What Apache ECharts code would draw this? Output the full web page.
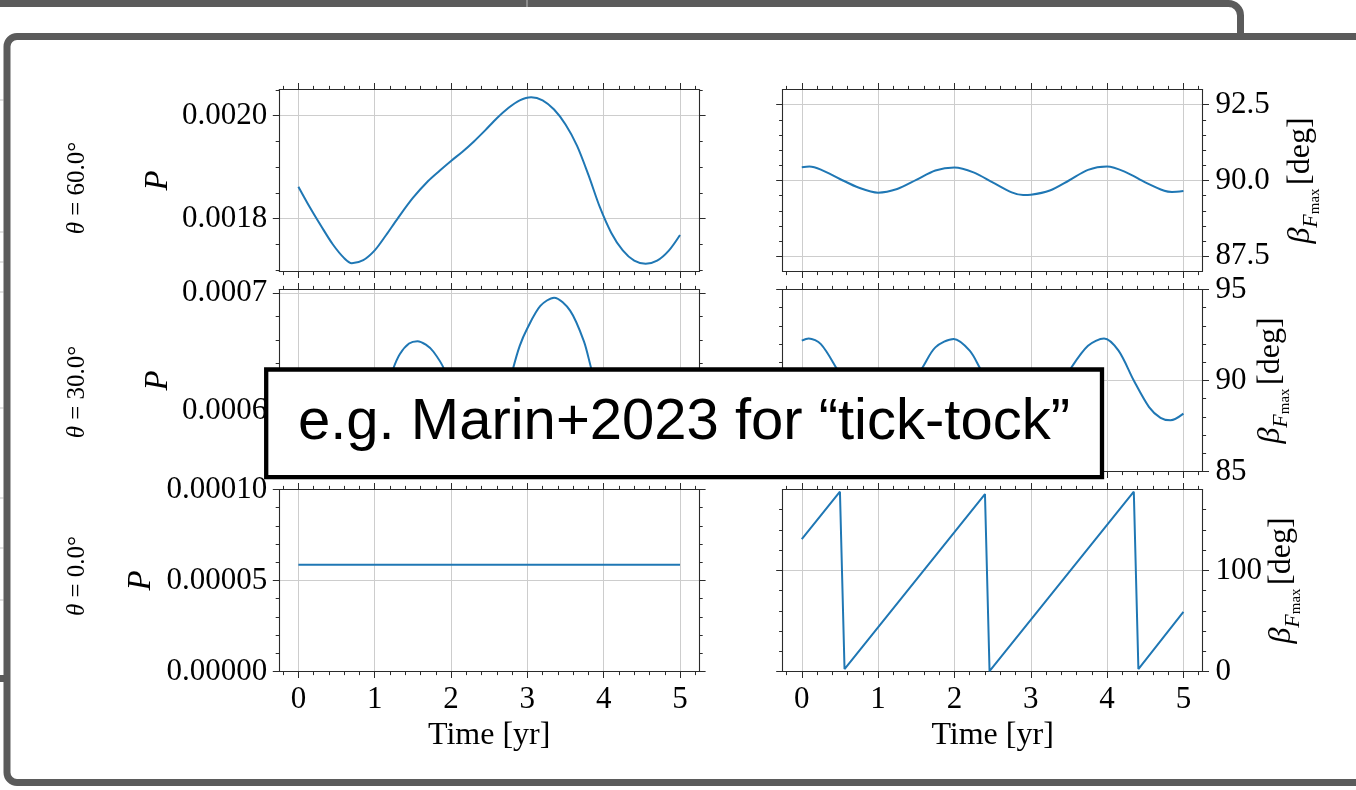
<!DOCTYPE html>
<html>
<head>
<meta charset="utf-8">
<script src="https://cdn.jsdelivr.net/npm/echarts@6.0.0/dist/echarts.min.js"></script>
<style>
  html, body { margin: 0; padding: 0; background: #ffffff; }
  #chart { width: 1356px; height: 790px; }
</style>
</head>
<body>
<div id="chart"></div>
<script>
// ---- time axis ticks (years) ----
const xMajorTicks = [0, 1, 2, 3, 4, 5];
const xMinorTicks = [-0.2, 0.2, 0.4, 0.6, 0.8, 1.2, 1.4, 1.6, 1.8, 2.2, 2.4, 2.6, 2.8,
                     3.2, 3.4, 3.6, 3.8, 4.2, 4.4, 4.6, 4.8, 5.2];
const xTickLabels = ['0', '1', '2', '3', '4', '5'];

// ---- theta = 60 deg ----
const p60Time   = [0, 0.15, 0.3, 0.45, 0.6, 0.7, 0.85, 1.0, 1.15, 1.3, 1.5, 1.7, 1.85, 2.0, 2.15,
                   2.3, 2.45, 2.6, 2.75, 2.9, 3.05, 3.2, 3.35, 3.5, 3.65, 3.8, 3.95, 4.1, 4.25,
                   4.4, 4.55, 4.7, 4.85, 5.0];
const p60Values = [0.001862, 0.001822, 0.001785, 0.001750, 0.001723, 0.001713, 0.001719, 0.001738,
                   0.001768, 0.001800, 0.001840, 0.001873, 0.001893, 0.001912, 0.001930, 0.001950,
                   0.001972, 0.001995, 0.002015, 0.002030, 0.002036, 0.002030, 0.002012, 0.001983,
                   0.001942, 0.001885, 0.001822, 0.001772, 0.001738, 0.001718, 0.001712, 0.001718,
                   0.001737, 0.001768];
const p60Ticks  = [0.0018, 0.0020];
const p60Minor  = [0.0017, 0.00175, 0.00185, 0.0019, 0.00195, 0.00205];
const p60Labels = ['0.0018', '0.0020'];

const beta60Time   = [0, 0.1, 0.25, 0.5, 0.75, 1.0, 1.25, 1.5, 1.75, 2.0, 2.25, 2.5, 2.75, 2.9,
                      3.0, 3.25, 3.5, 3.75, 4.0, 4.25, 4.5, 4.75, 4.85, 5.0];
const beta60Values = [90.44, 90.46, 90.36, 90.05, 89.76, 89.60, 89.72, 90.02, 90.33, 90.43, 90.27,
                      89.94, 89.61, 89.52, 89.53, 89.67, 90.00, 90.35, 90.46, 90.27, 89.94, 89.66,
                      89.62, 89.65];
const beta60Ticks  = [87.5, 90.0, 92.5];
const beta60Minor  = [88, 88.5, 89, 89.5, 90.5, 91, 91.5, 92];
const beta60Labels = ['87.5', '90.0', '92.5'];

// ---- theta = 30 deg ----
const p30Time   = [0, 0.25, 0.5, 0.7, 0.9, 1.05, 1.24, 1.33, 1.45, 1.56, 1.67, 1.77, 1.91, 2.1,
                   2.3, 2.45, 2.6, 2.81, 2.9, 3.0, 3.17, 3.35, 3.56, 3.74, 3.84, 4.0, 4.2, 4.4,
                   4.6, 4.8, 5.0];
const p30Values = [0.000600, 0.000575, 0.000558, 0.000555, 0.000570, 0.000598, 0.000635, 0.000648,
                   0.000657, 0.000659, 0.000656, 0.000650, 0.000635, 0.000595, 0.000565, 0.000560,
                   0.000580, 0.000635, 0.000655, 0.000670, 0.000689, 0.000696, 0.000685, 0.000659,
                   0.000635, 0.000600, 0.000568, 0.000555, 0.000560, 0.000578, 0.000600];
const p30Ticks  = [0.0006, 0.0007];
const p30Minor  = [0.00056, 0.00058, 0.00062, 0.00064, 0.00066, 0.00068];
const p30Labels = ['0.0006', '0.0007'];

const beta30Time   = [0, 0.09, 0.25, 0.46, 0.6, 0.8, 0.96, 1.15, 1.35, 1.57, 1.75, 1.99, 2.2, 2.34,
                      2.5, 2.7, 2.95, 3.15, 3.35, 3.52, 3.75, 3.96, 4.15, 4.35, 4.55, 4.7, 4.83, 5.0];
const beta30Values = [92.19, 92.31, 92.00, 90.64, 89.60, 88.30, 87.85, 88.20, 89.40, 90.64, 91.82,
                      92.28, 91.64, 90.64, 89.50, 88.30, 87.80, 88.20, 89.40, 90.64, 91.91, 92.31,
                      91.64, 90.00, 88.54, 87.95, 87.81, 88.18];
const beta30Ticks  = [85, 90, 95];
const beta30Minor  = [86, 87, 88, 89, 91, 92, 93, 94];
const beta30Labels = ['85', '90', '95'];

// ---- theta = 0 deg ----
const p0Time   = [0, 5];
const p0Values = [0.0000586, 0.0000586];
const p0Ticks  = [0, 0.00005, 0.0001];
const p0Minor  = [0.00001, 0.00002, 0.00003, 0.00004, 0.00006, 0.00007, 0.00008, 0.00009];
const p0Labels = ['0.00000', '0.00005', '0.00010'];

const beta0Time   = [0, 0.50, 0.56, 2.40, 2.46, 4.35, 4.41, 5.0];
const beta0Values = [130.8, 177.8, 2.4, 175.5, 0.3, 177.8, 2.4, 59.0];
const beta0Ticks  = [0, 100];
const beta0Minor  = [20, 40, 60, 80, 120, 140, 160];
const beta0Labels = ['0', '100'];

const rowLabels = ['60.0°', '30.0°', '0.0°'];

// ---- styling ----
const SERIF = "'Liberation Serif', 'DejaVu Serif', serif";
const SANS = "'Liberation Sans', Arial, sans-serif";
const AXIS_COLOR = '#2b2b2b';
const GRID_COLOR = '#cdcdcd';
const LINE_COLOR = '#1f77b4';
const FRAME_COLOR = '#5b5b5b';

const colLeft = [279.3, 782.7];
const colWidth = 419.8;
const rowTop = [89.5, 289.5, 489.5];
const rowHeight = 182;

const panels = [
  { col: 0, row: 0, t: p60Time, v: p60Values, yMin: 0.001697, yMax: 0.002051,
    major: p60Ticks, minor: p60Minor, labels: p60Labels, majorStep: 0.0002, minorStep: 0.00005 },
  { col: 1, row: 0, t: beta60Time, v: beta60Values, yMin: 87, yMax: 93,
    major: beta60Ticks, minor: beta60Minor, labels: beta60Labels, majorStep: 2.5, minorStep: 0.5 },
  { col: 0, row: 1, t: p30Time, v: p30Values, yMin: 0.000548, yMax: 0.000703,
    major: p30Ticks, minor: p30Minor, labels: p30Labels, majorStep: 0.0001, minorStep: 0.00002 },
  { col: 1, row: 1, t: beta30Time, v: beta30Values, yMin: 85, yMax: 95,
    major: beta30Ticks, minor: beta30Minor, labels: beta30Labels, majorStep: 5, minorStep: 1 },
  { col: 0, row: 2, t: p0Time, v: p0Values, yMin: 0, yMax: 0.0001,
    major: p0Ticks, minor: p0Minor, labels: p0Labels, majorStep: 0.00005, minorStep: 0.00001 },
  { col: 1, row: 2, t: beta0Time, v: beta0Values, yMin: 0, yMax: 180,
    major: beta0Ticks, minor: beta0Minor, labels: beta0Labels, majorStep: 100, minorStep: 20 }
];

// name gaps for the axis titles of each row
const pNameGap = [104, 104, 121];
const betaNameGap = [76, 46, 56];

function labelLookup(ticks, labels) {
  return function (val) {
    for (let i = 0; i < ticks.length; i++) {
      const tol = Math.max(Math.abs(ticks[i]), 1e-12) * 1e-6;
      if (Math.abs(val - ticks[i]) <= tol) return labels[i];
    }
    return '';
  };
}

function baseAxis(gridIndex, position, min, max, ticks, step, isMinor) {
  return {
    type: 'value',
    gridIndex: gridIndex,
    position: position,
    min: min,
    max: max,
    minInterval: step,
    maxInterval: step,
    axisLine: { show: !isMinor, onZero: false, lineStyle: { color: AXIS_COLOR, width: 1.1 } },
    axisTick: {
      show: true, inside: false, length: isMinor ? 3.6 : 6.5,
      customValues: ticks,
      lineStyle: { color: AXIS_COLOR, width: 1 }
    },
    axisLabel: { show: false },
    splitLine: { show: false },
    minorTick: { show: false },
    minorSplitLine: { show: false }
  };
}

const grids = [], xAxes = [], yAxes = [], series = [];

panels.forEach(function (p, gi) {
  grids.push({ left: colLeft[p.col], top: rowTop[p.row], width: colWidth, height: rowHeight });

  // x axes: bottom major (with grid lines), bottom minor, top major, top minor
  const xb = baseAxis(gi, 'bottom', -0.25, 5.25, xMajorTicks, 1, false);
  xb.splitLine = { show: true, lineStyle: { color: GRID_COLOR, width: 1 } };
  if (p.row === 2) {
    xb.axisLabel = {
      show: true, customValues: xMajorTicks, margin: 13,
      formatter: labelLookup(xMajorTicks, xTickLabels),
      fontFamily: SERIF, fontSize: 31, color: '#000'
    };
    xb.name = 'Time [yr]';
    xb.nameLocation = 'middle';
    xb.nameGap = 48;
    xb.nameTextStyle = { fontFamily: SERIF, fontSize: 32, color: '#000' };
  }
  const xIndex = xAxes.length;
  xAxes.push(xb);
  xAxes.push(baseAxis(gi, 'bottom', -0.25, 5.25, xMinorTicks, 0.2, true));
  xAxes.push(baseAxis(gi, 'top', -0.25, 5.25, xMajorTicks, 1, false));
  xAxes.push(baseAxis(gi, 'top', -0.25, 5.25, xMinorTicks, 0.2, true));

  // y axes: left major (with grid lines), left minor, right major, right minor
  const yl = baseAxis(gi, 'left', p.yMin, p.yMax, p.major, p.majorStep, false);
  yl.splitLine = { show: true, lineStyle: { color: GRID_COLOR, width: 1 } };
  const yr = baseAxis(gi, 'right', p.yMin, p.yMax, p.major, p.majorStep, false);
  const labelStyle = {
    show: true, customValues: p.major, margin: 12,
    formatter: labelLookup(p.major, p.labels),
    fontFamily: SERIF, fontSize: 31, color: '#000'
  };
  if (p.col === 0) {
    yl.axisLabel = labelStyle;
    yl.name = 'P';
    yl.nameLocation = 'middle';
    yl.nameRotate = 90;
    yl.nameGap = pNameGap[p.row];
    yl.nameTextStyle = { fontFamily: SERIF, fontStyle: 'italic', fontSize: 33, color: '#000' };
  } else {
    labelStyle.margin = 13;
    yr.axisLabel = labelStyle;
    yr.name = '{b|β}{f|F}{m|max}{s| }{d|[deg]}';
    yr.nameLocation = 'middle';
    yr.nameRotate = 90;
    yr.nameGap = betaNameGap[p.row];
    yr.nameTextStyle = {
      color: '#000',
      rich: {
        b: { fontFamily: SERIF, fontStyle: 'italic', fontSize: 32, lineHeight: 44, color: '#000' },
        f: { fontFamily: SERIF, fontStyle: 'italic', fontSize: 22, lineHeight: 22,
             verticalAlign: 'bottom', color: '#000' },
        m: { fontFamily: SERIF, fontSize: 15, lineHeight: 9, verticalAlign: 'bottom', color: '#000' },
        s: { fontFamily: SERIF, fontSize: 14, lineHeight: 44, color: '#000' },
        d: { fontFamily: SERIF, fontSize: 32, lineHeight: 44, color: '#000' }
      }
    };
  }
  const yIndex = yAxes.length;
  yAxes.push(yl);
  yAxes.push(baseAxis(gi, 'left', p.yMin, p.yMax, p.minor, p.minorStep, true));
  yAxes.push(yr);
  yAxes.push(baseAxis(gi, 'right', p.yMin, p.yMax, p.minor, p.minorStep, true));

  series.push({
    type: 'line',
    xAxisIndex: xIndex,
    yAxisIndex: yIndex,
    data: p.t.map(function (t, i) { return [t, p.v[i]]; }),
    showSymbol: false,
    smooth: p.row === 2 ? false : 0.3,
    lineStyle: { color: LINE_COLOR, width: 2 },
    z: 3
  });
});

// row titles (theta) on the far left
const rowCenters = [188, 392, 576];
const thetaTexts = rowLabels.map(function (lab, r) {
  return {
    type: 'text',
    x: 77, y: rowCenters[r],
    rotation: Math.PI / 2,
    style: {
      text: '{i|θ} = ' + lab,
      align: 'center', verticalAlign: 'middle',
      fontFamily: SERIF, fontSize: 25, fill: '#000',
      rich: { i: { fontFamily: SERIF, fontStyle: 'italic', fontSize: 25, fill: '#000' } }
    },
    z: 5
  };
});

// slivers of the neighbouring slide visible at the far left edge
const sliverYs = [100, 232, 262, 292, 408, 498, 548, 600];
const slivers = sliverYs.map(function (y) {
  return { type: 'line', shape: { x1: 0, y1: y, x2: 3.5, y2: y },
           style: { stroke: '#c4c4c4', lineWidth: 1 }, z: -3 };
});

const chart = echarts.init(document.getElementById('chart'), null, { renderer: 'canvas' });
chart.setOption({
  animation: false,
  backgroundColor: '#ffffff',
  grid: grids,
  xAxis: xAxes,
  yAxis: yAxes,
  series: series,
  graphic: [
    // slide frame behind
    { type: 'rect', shape: { x: -30, y: 3.5, width: 1270.5, height: 675, r: 12 },
      style: { fill: '#ffffff', stroke: FRAME_COLOR, lineWidth: 7 }, z: -5 },
    { type: 'line', shape: { x1: 527, y1: 0, x2: 527, y2: 7 },
      style: { stroke: '#bdbdbd', lineWidth: 1 }, z: -4 },
    // slide frame in front
    { type: 'rect', shape: { x: 7, y: 36.5, width: 1390, height: 746, r: 10 },
      style: { fill: '#ffffff', stroke: FRAME_COLOR, lineWidth: 7 }, z: -2 },
    // callout box
    { type: 'rect', shape: { x: 266.2, y: 369.5, width: 835.8, height: 107.7 },
      style: { fill: '#ffffff', stroke: '#000000', lineWidth: 4.3 }, z: 100 },
    { type: 'text', x: 684, y: 423.3,
      style: { text: 'e.g. Marin+2023 for “tick-tock”', align: 'center', verticalAlign: 'middle',
               fontFamily: SANS, fontSize: 58, fill: '#000' }, z: 101 }
  ].concat(thetaTexts, slivers)
});
</script>
</body>
</html>
